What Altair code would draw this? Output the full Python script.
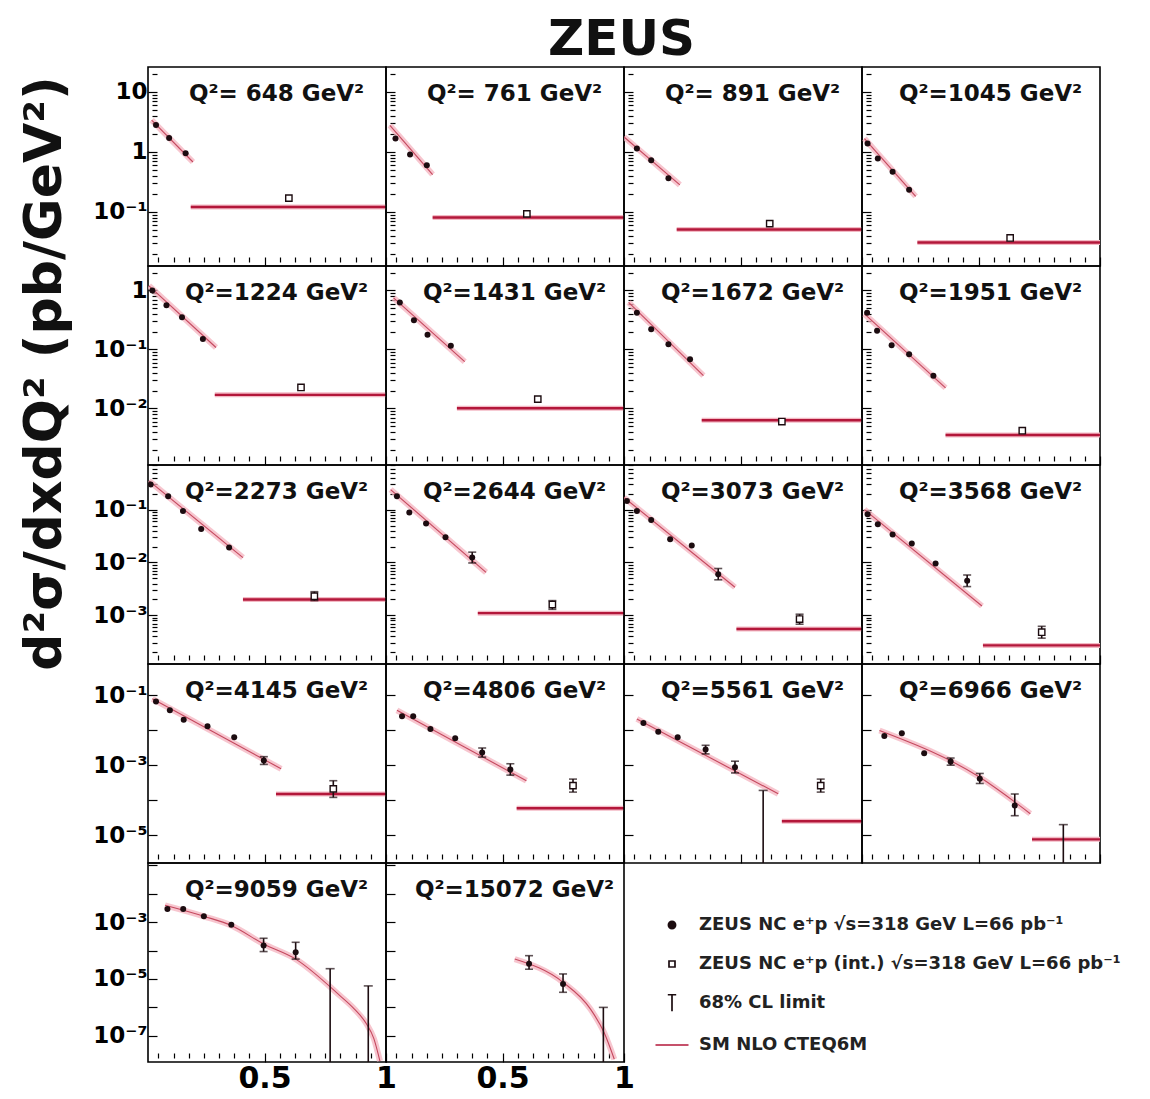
import math
import altair as alt
import pandas as pd

# ---------------- data ----------------
Q2 = [648, 761, 891, 1045, 1224, 1431, 1672, 1951, 2273, 2644,
      3073, 3568, 4145, 4806, 5561, 6966, 9059, 15072]

PT_X = [
    [0.053, 0.107, 0.175],
    [0.059, 0.119, 0.188],
    [0.073, 0.132, 0.203],
    [0.043, 0.085, 0.146, 0.214],
    [0.038, 0.096, 0.160, 0.246],
    [0.077, 0.135, 0.191, 0.287],
    [0.073, 0.132, 0.203, 0.292],
    [0.041, 0.082, 0.142, 0.214, 0.314],
    [0.031, 0.103, 0.164, 0.239, 0.354],
    [0.065, 0.116, 0.185, 0.265, 0.375],
    [0.032, 0.073, 0.132, 0.210, 0.299, 0.408],
    [0.043, 0.085, 0.146, 0.225, 0.323, 0.453],
    [0.053, 0.110, 0.167, 0.265, 0.375, 0.497],
    [0.086, 0.132, 0.203, 0.305, 0.416, 0.532],
    [0.100, 0.161, 0.241, 0.356, 0.477],
    [0.112, 0.184, 0.276, 0.385, 0.505, 0.649],
    [0.100, 0.165, 0.250, 0.363, 0.496, 0.628],
    [0.609, 0.749],
]
PT_Y = [
    [2.8, 1.7, 0.95],
    [1.67, 0.91, 0.60],
    [1.14, 0.73, 0.365],
    [1.38, 0.78, 0.47, 0.234],
    [1.0, 0.56, 0.35, 0.15],
    [0.626, 0.314, 0.177, 0.116],
    [0.42, 0.22, 0.123, 0.0685],
    [0.42, 0.207, 0.118, 0.083, 0.036],
    [0.30, 0.18, 0.094, 0.043, 0.0192],
    [0.18, 0.088, 0.055, 0.030, 0.0124],
    [0.146, 0.094, 0.064, 0.0275, 0.021, 0.006],
    [0.082, 0.053, 0.034, 0.023, 0.0096, 0.0045],
    [0.066, 0.037, 0.020, 0.013, 0.0063, 0.00136],
    [0.025, 0.025, 0.0109, 0.0059, 0.0023, 0.00075],
    [0.016, 0.0091, 0.0063, 0.0028, 0.00087],
    [0.0068, 0.0082, 0.0022, 0.00127, 0.00041, 7.0e-5],
    [0.0029, 0.0029, 0.0016, 0.0008, 1.5e-4, 8.7e-5],
    [3.4e-5, 6.6e-6],
]
PT_LO = [
    [None, None, None],
    [None, None, None],
    [None, None, None],
    [None, None, None, None],
    [None, None, None, None],
    [None, None, None, None],
    [None, None, None, None],
    [None, None, None, None, None],
    [None, None, None, None, None],
    [None, None, None, None, 0.0098],
    [None, None, None, None, None, 0.0047],
    [None, None, None, None, None, 0.0035],
    [None, None, None, None, None, 0.00105],
    [None, None, None, None, 0.0017, 0.00052],
    [None, None, None, 0.0021, 0.0006],
    [None, None, None, 0.0010, 0.0003, 3.6e-5],
    [None, None, None, None, 9.2e-5, 5.0e-5],
    [2.2e-5, 3.4e-6],
]
PT_HI = [
    [None, None, None],
    [None, None, None],
    [None, None, None],
    [None, None, None, None],
    [None, None, None, None],
    [None, None, None, None],
    [None, None, None, None],
    [None, None, None, None, None],
    [None, None, None, None, None],
    [None, None, None, None, 0.0157],
    [None, None, None, None, None, 0.0077],
    [None, None, None, None, None, 0.0058],
    [None, None, None, None, None, 0.00175],
    [None, None, None, None, 0.0031, 0.0011],
    [None, None, None, 0.0037, 0.0013],
    [None, None, None, 0.0016, 0.00058, 1.5e-4],
    [None, None, None, None, 2.7e-4, 1.95e-4],
    [6.6e-5, 1.5e-5],
]
TH_X = [
    [0.035, 0.205], [0.036, 0.212], [0.020, 0.250], [0.030, 0.241],
    [0.024, 0.300], [0.051, 0.344], [0.039, 0.347], [0.030, 0.364],
    [0.024, 0.411], [0.039, 0.432], [0.020, 0.477], [0.030, 0.514],
    [0.038, 0.568], [0.065, 0.598], [0.073, 0.655],
    [0.092, 0.505, 0.713],
    [0.090, 0.250, 0.363, 0.496, 0.628, 0.810, 0.870, 0.920, 0.950, 0.975],
    [0.550, 0.749, 0.862, 0.918, 0.960],
]
TH_Y = [
    [3.4, 0.68], [2.77, 0.42], [1.78, 0.283], [1.67, 0.182],
    [1.2, 0.108], [0.75, 0.062], [0.63, 0.036], [0.40, 0.0223],
    [0.35, 0.0124], [0.24, 0.0065], [0.17, 0.0034], [0.10, 0.0015],
    [0.079, 0.00079], [0.037, 0.00036], [0.021, 0.000152],
    [0.0098, 0.00045, 4.1e-5],
    [3.9e-3, 1.6e-3, 7.6e-4, 1.7e-4, 5.0e-5, 2.6e-6, 8.7e-7, 2.6e-7, 8.0e-8, 1.3e-8],
    [5.0e-5, 7.6e-6, 8.7e-7, 1.3e-7, 1.5e-8],
]
INT_XLO = [0.196, 0.212, 0.237, 0.248, 0.295, 0.312, 0.340, 0.364, 0.411,
           0.398, 0.483, 0.518, 0.547, 0.558, 0.670, 0.720, None, None]
INT_YTH = [0.121, 0.081, 0.051, 0.031, 0.017, 0.0101, 0.0063, 0.00354, 0.0020,
           0.0011, 0.00055, 0.00027, 0.00015, 5.9e-5, 2.5e-5, 7.6e-6, None, None]
INT_PX = [0.60, 0.60, 0.62, 0.63, 0.65, 0.645, 0.67, 0.68, 0.705,
          0.705, 0.743, 0.76, 0.783, 0.79, 0.83, None, None, None]
INT_PY = [0.17, 0.093, 0.064, 0.037, 0.0227, 0.0144, 0.0060, 0.0042, 0.0023,
          0.0016, 0.00085, 0.00048, 0.00021, 0.00026, 0.00026, None, None, None]
INT_LO = [None, None, None, None, None, None, None, None, 0.0019,
          0.0013, 0.00068, 0.00037, 0.00012, 0.00017, 0.00017, None, None, None]
INT_HI = [None, None, None, None, None, None, None, None, 0.0028,
          0.0019, 0.00105, 0.00062, 0.00036, 0.0004, 0.0004, None, None, None]
CL_X = [[], [], [], [], [], [], [], [], [], [], [], [], [], [],
        [0.593], [0.849], [0.770, 0.927], [0.915]]
CL_Y = [[], [], [], [], [], [], [], [], [], [], [], [], [], [],
        [1.9e-4], [2.0e-5], [2.3e-5, 5.7e-6], [1.0e-6]]

ROW_YMIN = [0.0126, 0.0011, 1.2e-4, 1.6e-6, 1.2e-8]
ROW_YMAX = [26, 2.6, 0.7, 0.78, 0.12]
ROW_MINOR = [True, True, True, False, False]
ROW_LABELS = [
    {1: "10", 0: "1", -1: "10⁻¹"},
    {0: "1", -1: "10⁻¹", -2: "10⁻²"},
    {-1: "10⁻¹", -2: "10⁻²", -3: "10⁻³"},
    {-1: "10⁻¹", -3: "10⁻³", -5: "10⁻⁵"},
    {-3: "10⁻³", -5: "10⁻⁵", -7: "10⁻⁷"},
]
X_LABELS = {0.5: "0.5", 1: "1"}
YTITLE = "d²σ/dxdQ² (pb/GeV²)"
LEG_LABELS = ["ZEUS NC e⁺p √s=318 GeV L=66 pb⁻¹",
              "ZEUS NC e⁺p (int.) √s=318 GeV L=66 pb⁻¹",
              "68% CL limit",
              "SM NLO CTEQ6M"]

# ---------------- styling ----------------
W, H = 238, 199
FONT = "DejaVu Sans"
XDOM = [0.02, 1.0]
XTICKS = [0.0625 * k for k in range(1, 17)]
TICK_IN = 9
INK = "#1c0c10"
RED = "#b3173a"

LOGV = "log(datum.value)/LN10"
Y_MAJOR = f"abs({LOGV} - round({LOGV})) < 0.001"
X_MAJOR = "datum.value == 0.5 || datum.value == 1"


def y_ticks(r):
    lo, hi = ROW_YMIN[r], ROW_YMAX[r]
    out = []
    for e in range(math.floor(math.log10(lo)), math.ceil(math.log10(hi)) + 1):
        for k in (range(1, 10) if ROW_MINOR[r] else [1]):
            v = float(f"{k}e{e}")
            if lo <= v <= hi:
                out.append(v)
    return out


def y_label_expr(r):
    expr = "''"
    for ex, lab in ROW_LABELS[r].items():
        expr = f"round({LOGV}) == {ex} ? '{lab}' : ({expr})"
    return f"{Y_MAJOR} ? ({expr}) : ''"


def x_label_expr():
    expr = "''"
    for v, lab in X_LABELS.items():
        expr = f"datum.value == {v} ? '{lab}' : ({expr})"
    return expr


def y_axis(r, c):
    kw = dict(values=y_ticks(r), offset=-TICK_IN, domain=False, grid=False,
              tickColor="black", tickWidth=1.2,
              tickSize={"condition": {"test": Y_MAJOR, "value": TICK_IN}, "value": 5},
              labelOverlap=False, title=None)
    if c == 0:
        kw.update(labelExpr=y_label_expr(r), labelFont=FONT, labelFontSize=23,
                  labelFontWeight="bold", labelColor="black", labelPadding=1)
    else:
        kw.update(labels=False)
    if r == 1 and c == 0:
        kw.update(title=YTITLE, titleFont=FONT, titleFontSize=52, titleFontWeight="bold",
                  titleColor="#111", titleAngle=270, titleAlign="center",
                  titleBaseline="middle", titleX=-113, titleY=107)
    return alt.Axis(**kw)


def x_axis(bottom):
    kw = dict(values=XTICKS, offset=-TICK_IN, domain=False, grid=False,
              tickColor="black", tickWidth=1.2,
              tickSize={"condition": {"test": X_MAJOR, "value": TICK_IN}, "value": 5},
              labelOverlap=False, labelFlush=False, title=None)
    if bottom:
        kw.update(labelExpr=x_label_expr(), labelFont=FONT, labelFontSize=30,
                  labelFontWeight="bold", labelColor="black", labelPadding=1)
    else:
        kw.update(labels=False)
    return alt.Axis(**kw)


def panel(i, r, c, bottom):
    xs = alt.Scale(domain=XDOM, nice=False, zero=False)
    ys = alt.Scale(type="log", domain=[ROW_YMIN[r], ROW_YMAX[r]], nice=False)
    xa = x_axis(bottom)
    ya = y_axis(r, c)

    def X(f):
        return alt.X(f"{f}:Q", scale=xs, axis=xa)

    def Y(f):
        return alt.Y(f"{f}:Q", scale=ys, axis=ya)

    layers = []
    th = pd.DataFrame({"x": TH_X[i], "y": TH_Y[i]})
    layers.append(alt.Chart(th).mark_line(clip=True, color="#f4b3bf", strokeWidth=6, opacity=0.75,
                                          interpolate="monotone")
                  .encode(x=X("x"), y=Y("y")))
    layers.append(alt.Chart(th).mark_line(clip=True, color="#c4485e", strokeWidth=1.1,
                                          interpolate="monotone")
                  .encode(x=X("x"), y=Y("y")))

    if INT_XLO[i] is not None:
        d = pd.DataFrame({"x": [INT_XLO[i]], "x2": [XDOM[1]], "y": [INT_YTH[i]]})
        layers.append(alt.Chart(d).mark_rule(clip=True, color="#f3b9c4", strokeWidth=5)
                      .encode(x=X("x"), x2=alt.X2("x2:Q"), y=Y("y")))
        layers.append(alt.Chart(d).mark_rule(clip=True, color=RED, strokeWidth=2.4)
                      .encode(x=X("x"), x2=alt.X2("x2:Q"), y=Y("y")))

    # 68% CL limits: from the bottom of the panel up to the limit
    if CL_X[i]:
        d = pd.DataFrame({"x": CL_X[i], "top": CL_Y[i], "bot": [ROW_YMIN[r]] * len(CL_X[i])})
        layers.append(alt.Chart(d).mark_rule(clip=True, color=INK, strokeWidth=1.6)
                      .encode(x=X("x"), y=Y("bot"), y2=alt.Y2("top:Q")))
        layers.append(alt.Chart(d).mark_tick(clip=True, orient="horizontal", size=9,
                                             thickness=1.6, color=INK)
                      .encode(x=X("x"), y=Y("top")))

    # error bars of data points
    ex, elo, ehi = [], [], []
    for x, lo, hi in zip(PT_X[i], PT_LO[i], PT_HI[i]):
        if lo is not None:
            ex.append(x); elo.append(lo); ehi.append(hi)
    if INT_LO[i] is not None:
        ex.append(INT_PX[i]); elo.append(INT_LO[i]); ehi.append(INT_HI[i])
    if ex:
        d = pd.DataFrame({"x": ex, "lo": elo, "hi": ehi})
        layers.append(alt.Chart(d).mark_rule(clip=True, color=INK, strokeWidth=1.6)
                      .encode(x=X("x"), y=Y("lo"), y2=alt.Y2("hi:Q")))
        caps = pd.DataFrame({"x": ex + ex, "y": elo + ehi})
        layers.append(alt.Chart(caps).mark_tick(clip=True, orient="horizontal", size=8,
                                                thickness=1.6, color=INK)
                      .encode(x=X("x"), y=Y("y")))

    pts = pd.DataFrame({"x": PT_X[i], "y": PT_Y[i]})
    layers.append(alt.Chart(pts).mark_circle(clip=True, size=36, color=INK, opacity=1)
                  .encode(x=X("x"), y=Y("y")))

    if INT_PX[i] is not None:
        d = pd.DataFrame({"x": [INT_PX[i]], "y": [INT_PY[i]]})
        layers.append(alt.Chart(d).mark_point(clip=True, shape="square", size=40, filled=True,
                                              fill="white", stroke=INK, strokeWidth=1.4, opacity=1)
                      .encode(x=X("x"), y=Y("y")))

    q = Q2[i]
    lab = f"Q²= {q} GeV²" if q < 1000 else f"Q²={q} GeV²"
    layers.append(alt.Chart(pd.DataFrame({"t": [lab]}))
                  .mark_text(font=FONT, fontSize=23, fontWeight="bold", color="#111",
                             align="center", baseline="middle")
                  .encode(text="t:N", x=alt.value(W * 0.54), y=alt.value(27)))

    return alt.layer(*layers).properties(width=W, height=H)


# ---------------- legend cell ----------------
LEG_SHAPES = ["M-0.24,0A0.24,0.24 0 1,0 0.24,0A0.24,0.24 0 1,0 -0.24,0Z",
              "M-0.2,-0.2H0.2V0.2H-0.2Z",
              "M-0.28,-0.55H0.28M0,-0.55V0.55",
              "M-1.1,0H1.1"]
LEG_FILLS = [INK, "white", "transparent", "transparent"]
LEG_STROKES = [INK, INK, INK, RED]

leg_def = alt.Legend(orient="none", legendX=32, legendY=46, title=None,
                     labelFont=FONT, labelFontSize=18, labelFontWeight="bold",
                     labelColor="#222", labelLimit=700, labelOffset=11,
                     symbolSize=900, symbolStrokeWidth=1.7, rowPadding=14, padding=0)
leg_df = pd.DataFrame({"series": LEG_LABELS, "lx": [-1.0] * 4, "ly": [-1.0] * 4})
legend_chart = alt.Chart(leg_df).mark_point(clip=True, size=900, filled=True, opacity=1).encode(
    x=alt.X("lx:Q", scale=alt.Scale(domain=[0, 1]), axis=None),
    y=alt.Y("ly:Q", scale=alt.Scale(domain=[0, 1]), axis=None),
    shape=alt.Shape("series:N", scale=alt.Scale(domain=LEG_LABELS, range=LEG_SHAPES), legend=leg_def),
    fill=alt.Fill("series:N", scale=alt.Scale(domain=LEG_LABELS, range=LEG_FILLS), legend=leg_def),
    stroke=alt.Stroke("series:N", scale=alt.Scale(domain=LEG_LABELS, range=LEG_STROKES), legend=leg_def),
).properties(width=W, height=H, view=alt.ViewBackground(stroke="transparent"))

# ---------------- assemble (one 4-column grid) ----------------
cells = []
idx = 0
for r in range(5):
    n = 4 if r < 4 else 2
    for c in range(n):
        cells.append(panel(idx, r, c, bottom=(r == 4)))
        idx += 1
cells.append(legend_chart)

chart = alt.concat(*cells, columns=4, spacing=0, bounds="flush").resolve_scale(
    shape="independent", fill="independent", stroke="independent"
).properties(
    title=alt.TitleParams("ZEUS", font=FONT, fontSize=50, fontWeight="bold", color="#111",
                          anchor="start", frame="group", dx=400, offset=-3),
    padding={"left": 9, "top": 7, "right": 10, "bottom": 4},
).configure(font=FONT).configure_view(stroke="black", strokeWidth=1.6)

chart.save("out.html", embed_options={"renderer": "svg", "actions": False})
